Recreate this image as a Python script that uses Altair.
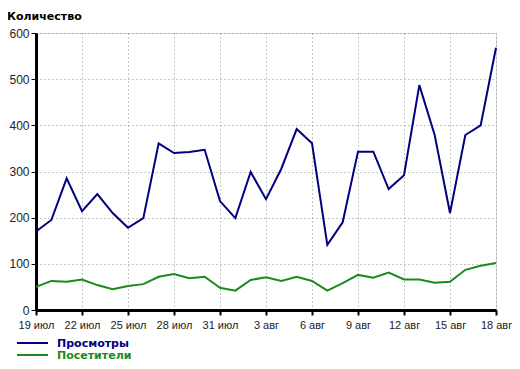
import altair as alt
import pandas as pd

dates = [f"{d} июл" for d in range(19, 32)] + [f"{d} авг" for d in range(1, 19)]
tick_labels = dates[::3]
series_names = ["Просмотры", "Посетители"]
series_colors = ["#000080", "#1a8a1a"]
views = [170, 195, 285, 214, 251, 210, 178, 199, 361, 340, 342, 347, 236, 199, 299, 240,
         306, 392, 361, 141, 190, 343, 343, 262, 292, 487, 379, 210, 379, 400, 568]
visitors = [50, 63, 61, 66, 54, 45, 52, 56, 72, 78, 69, 72, 48, 42, 65, 71,
            63, 72, 63, 42, 58, 76, 70, 81, 66, 66, 59, 61, 87, 96, 102]
y_title = "Количество"
y_ticks = [0, 100, 200, 300, 400, 500, 600]

rows = []
for i, d in enumerate(dates):
    rows.append({"date": d, "series": series_names[0], "value": views[i], "order": i})
    rows.append({"date": d, "series": series_names[1], "value": visitors[i], "order": i})
df = pd.DataFrame(rows)

FONT = "Liberation Sans"
BOLD_FONT = "DejaVu Sans"
GRID = "#8a8a8a"

x_enc = alt.X("date:O", sort=dates,
              scale=alt.Scale(type="point", domain=dates, padding=0),
              axis=alt.Axis(values=tick_labels, title=None, labelAngle=0,
                            grid=True, gridDash=[1, 3], gridColor=GRID,
                            domainColor="#000000", domainWidth=3,
                            tickColor="#000000", tickWidth=2, tickSize=5,
                            labelPadding=4, labelFontSize=11, labelFont=FONT,
                            labelColor="#222222"))
y_enc = alt.Y("value:Q", scale=alt.Scale(domain=[0, 600], nice=False),
              axis=alt.Axis(values=y_ticks, title=None, grid=True, gridDash=[1, 3],
                            gridColor=GRID, domainColor="#000000", domainWidth=3,
                            tickColor="#000000", tickWidth=1, tickSize=5,
                            labelPadding=2, labelFontSize=12, labelFont=FONT,
                            labelColor="#222222"))

lines = alt.Chart(df).mark_line(strokeWidth=2).encode(
    x=x_enc, y=y_enc,
    color=alt.Color("series:N", scale=alt.Scale(domain=series_names, range=series_colors), legend=None),
    order="order:Q",
    detail="series:N",
)

title = alt.Chart(pd.DataFrame({"t": [y_title]})).mark_text(
    align="left", baseline="alphabetic", fontWeight="bold", fontSize=11, font=BOLD_FONT, color="#000000"
).encode(text="t:N", x=alt.value(-29), y=alt.value(-13))

legend_layers = []
legend_line_y = [310, 322]
legend_text_y = [314, 326]
for name, col, ly, ty in zip(series_names, series_colors, legend_line_y, legend_text_y):
    d = pd.DataFrame({"name": [name]})
    legend_layers.append(alt.Chart(d).mark_rule(strokeWidth=2, color=col).encode(
        x=alt.value(-19), x2=alt.value(12), y=alt.value(ly)))
    legend_layers.append(alt.Chart(d).mark_text(
        align="left", baseline="alphabetic", fontWeight="bold", fontSize=11, font=BOLD_FONT, color=col
    ).encode(text="name:N", x=alt.value(21), y=alt.value(ty)))

chart = alt.layer(lines, title, *legend_layers).properties(
    width=460, height=277,
    autosize=alt.AutoSizeParams(type="none"),
    padding={"left": 28, "top": 25, "right": 16, "bottom": 51},
).configure_view(fill="#f4f4f4", strokeWidth=0).configure(background="#ffffff")

chart.save("out.html", embed_options={"renderer": "svg", "actions": False})
